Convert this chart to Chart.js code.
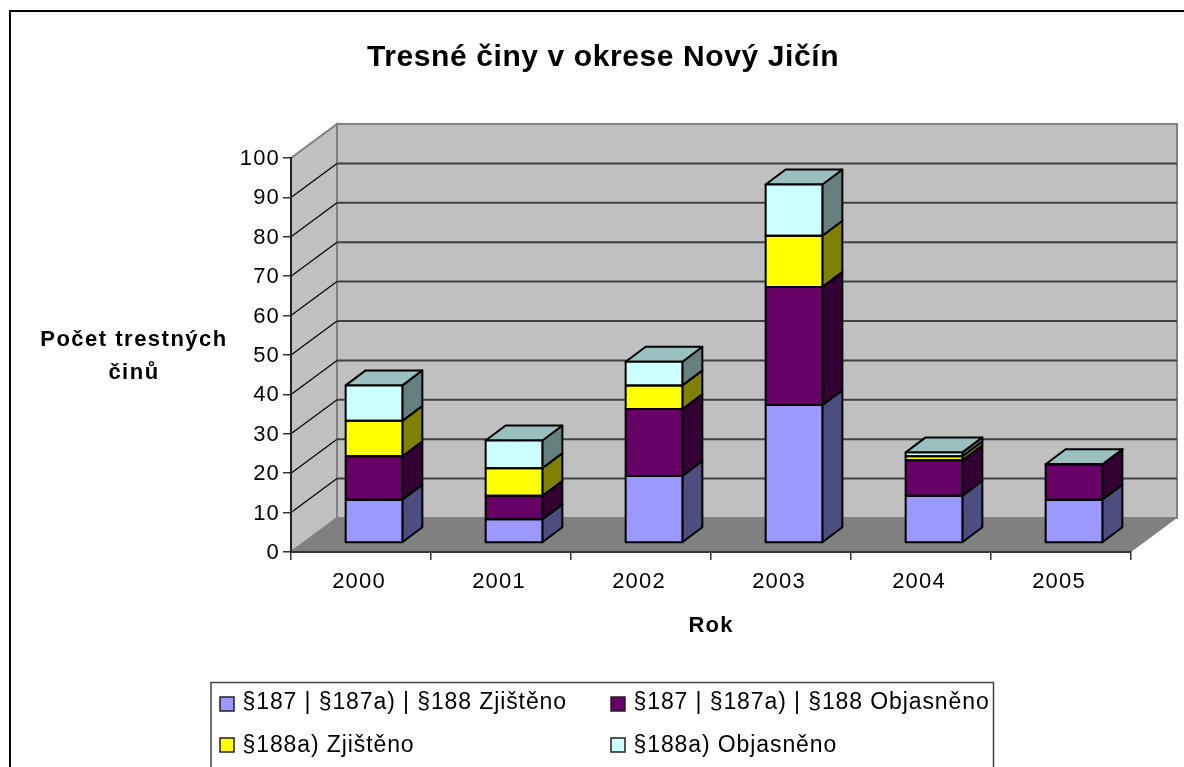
<!DOCTYPE html>
<html>
<head>
<meta charset="utf-8">
<title>Tresné činy v okrese Nový Jičín</title>
<script src="https://cdn.jsdelivr.net/npm/chart.js@4/dist/chart.umd.min.js"></script>
<style>
    html, body { margin: 0; padding: 0; background: #fff; overflow: hidden; }
    canvas { display: block; }
</style>
</head>
<body>
<canvas id="chart" width="1184" height="767"></canvas>
<script>
// Chart data
const years = ['2000', '2001', '2002', '2003', '2004', '2005'];
const zjisteno187 = [11, 6, 17, 35, 12, 11];
const objasneno187 = [11, 6, 17, 30, 9, 9];
const zjisteno188a = [9, 7, 6, 13, 1, 0];
const objasneno188a = [9, 7, 6, 13, 1, 0];
const yTicks = [0, 10, 20, 30, 40, 50, 60, 70, 80, 90, 100];

const seriesNames = ['§187 | §187a) | §188 Zjištěno', '§187 | §187a) | §188 Objasněno', '§188a) Zjištěno', '§188a) Objasněno'];
const seriesValues = [zjisteno187, objasneno187, zjisteno188a, objasneno188a];

const titleText = 'Tresné činy v okrese Nový Jičín';
const yTitleLines = ['Počet trestných', 'činů'];
const xTitleText = 'Rok';

// Colours: front face and darker side face of each series
const frontColors = ['#9999FF', '#660066', '#FFFF00', '#CCFFFF'];
const sideColors = ['#4D4D80', '#330033', '#808000', '#668080'];
const topColor = '#99BFBF';

// 3D offsets
const wallDepth = { x: 46, y: -34 };
const barShift = { x: 13, y: -9 };
const barDepth = { x: 20, y: -15 };

const FONT = '"Liberation Sans", Arial, sans-serif';

function quad(ctx, pts, fill, stroke, lineWidth) {
    ctx.beginPath();
    pts.forEach((p, i) => i ? ctx.lineTo(p[0], p[1]) : ctx.moveTo(p[0], p[1]));
    ctx.closePath();
    if (fill) {
        ctx.fillStyle = fill;
        ctx.fill();
    }
    if (stroke) {
        ctx.strokeStyle = stroke;
        ctx.lineWidth = lineWidth;
        ctx.stroke();
    }
}

// Page frame, walls, floor and gridlines
const wallsPlugin = {
    id: 'walls',
    beforeDraw(chart) {
        const { ctx, chartArea: a, scales } = chart;
        const dx = wallDepth.x, dy = wallDepth.y;

        // the axis labels pick this up from the context
        ctx.letterSpacing = '1.2px';

        ctx.fillStyle = '#fff';
        ctx.fillRect(0, 0, chart.width, chart.height);
        ctx.strokeStyle = '#000';
        ctx.lineWidth = 2;
        ctx.beginPath();
        ctx.moveTo(10, chart.height);
        ctx.lineTo(10, 11);
        ctx.lineTo(chart.width, 11);
        ctx.stroke();

        // side wall, back wall, floor
        quad(ctx, [[a.left, a.top], [a.left + dx, a.top + dy], [a.left + dx, a.bottom + dy], [a.left, a.bottom]], '#C0C0C0', '#808080', 2);
        quad(ctx, [[a.left + dx, a.top + dy], [a.right + dx, a.top + dy], [a.right + dx, a.bottom + dy], [a.left + dx, a.bottom + dy]], '#C0C0C0', '#808080', 2);
        quad(ctx, [[a.left, a.bottom], [a.left + dx, a.bottom + dy], [a.right + dx, a.bottom + dy], [a.right, a.bottom]], '#808080');

        yTicks.slice(1, -1).forEach(v => {
            const y = scales.y.getPixelForValue(v);
            ctx.beginPath();
            ctx.moveTo(a.left, y);
            ctx.lineTo(a.left + dx, y + dy);
            ctx.strokeStyle = '#000';
            ctx.lineWidth = 1.2;
            ctx.stroke();
            ctx.beginPath();
            ctx.moveTo(a.left + dx, y + dy);
            ctx.lineTo(a.right + dx, y + dy);
            ctx.strokeStyle = '#404040';
            ctx.lineWidth = 2;
            ctx.stroke();
        });
    }
};

// Side and top faces of the columns, the fronts are the library's own bars
const columnsPlugin = {
    id: 'columns',
    beforeDatasetsDraw(chart) {
        const { ctx } = chart;
        const dx = barDepth.x, dy = barDepth.y;
        ctx.save();
        ctx.translate(barShift.x, barShift.y);
        ctx.lineJoin = 'round';

        chart.data.datasets.forEach((ds, d) => {
            chart.getDatasetMeta(d).data.forEach(bar => {
                const r = bar.x + bar.width / 2;
                quad(ctx, [[r, bar.y], [r + dx, bar.y + dy], [r + dx, bar.base + dy], [r, bar.base]], sideColors[d], '#000', 2);
            });
        });

        const last = chart.data.datasets.length - 1;
        chart.getDatasetMeta(last).data.forEach(bar => {
            const l = bar.x - bar.width / 2;
            const r = bar.x + bar.width / 2;
            quad(ctx, [[l, bar.y], [l + dx, bar.y + dy], [r + dx, bar.y + dy], [r, bar.y]], topColor, '#000', 2);
        });
    },
    afterDatasetsDraw(chart) {
        const { ctx } = chart;
        // outlines centred on the segment edges
        chart.data.datasets.forEach((ds, d) => {
            chart.getDatasetMeta(d).data.forEach(bar => {
                const l = bar.x - bar.width / 2;
                const r = bar.x + bar.width / 2;
                quad(ctx, [[l, bar.y], [r, bar.y], [r, bar.base], [l, bar.base]], null, '#000', 2);
            });
        });
        ctx.restore();
    }
};

// Title, horizontal y axis title and the two column legend
const labelsPlugin = {
    id: 'labels',
    afterDraw(chart) {
        const { ctx } = chart;
        ctx.save();
        ctx.fillStyle = '#000';
        ctx.textBaseline = 'middle';
        ctx.textAlign = 'center';

        ctx.letterSpacing = '0.6px';
        ctx.font = 'bold 30px ' + FONT;
        ctx.fillText(titleText, 603, 58);

        ctx.letterSpacing = '1.5px';
        ctx.font = 'bold 22px ' + FONT;
        yTitleLines.forEach((line, i) => ctx.fillText(line, 134, 340 + i * 33));

        ctx.strokeStyle = '#404040';
        ctx.lineWidth = 1.5;
        ctx.beginPath();
        ctx.moveTo(211, chart.height);
        ctx.lineTo(211, 682.5);
        ctx.lineTo(993.5, 682.5);
        ctx.lineTo(993.5, chart.height);
        ctx.stroke();

        ctx.textAlign = 'left';
        ctx.letterSpacing = '0.9px';
        ctx.font = '23px ' + FONT;
        chart.data.datasets.forEach((ds, d) => {
            const col = d % 2, row = Math.floor(d / 2);
            const x = col ? 611 : 220;
            const y = 704 + row * 41;
            quad(ctx, [[x, y - 7], [x + 14, y - 7], [x + 14, y + 7], [x, y + 7]], frontColors[d], '#202020', 1.5);
            ctx.fillStyle = '#000';
            ctx.fillText(ds.label, x + 22.5, 703 + row * 43);
        });
        ctx.restore();
    }
};

new Chart(document.getElementById('chart'), {
    type: 'bar',
    data: {
        labels: years,
        datasets: seriesValues.map((values, i) => ({
            label: seriesNames[i],
            data: values,
            backgroundColor: frontColors[i],
            borderWidth: 0,
            barPercentage: 0.405,
            categoryPercentage: 1,
            clip: false
        }))
    },
    plugins: [wallsPlugin, columnsPlugin, labelsPlugin],
    options: {
        responsive: false,
        animation: false,
        layout: { padding: { left: 75, right: 53, top: 158, bottom: 125 } },
        plugins: {
            legend: { display: false },
            tooltip: { enabled: false }
        },
        scales: {
            x: {
                stacked: true,
                afterFit(scale) { scale.height = 90; },
                border: { color: '#333', width: 2 },
                grid: { drawOnChartArea: false, tickLength: 8, tickColor: '#333', lineWidth: 1.5, offset: true },
                ticks: { color: '#000', font: { family: FONT, size: 22 }, maxRotation: 0, labelOffset: -2, padding: 9 },
                title: {
                    display: true,
                    text: xTitleText,
                    color: '#000',
                    font: { family: FONT, size: 22, weight: 'bold' },
                    padding: { top: 0, bottom: 3 }
                }
            },
            y: {
                stacked: true,
                min: 0,
                max: 100,
                afterFit(scale) { scale.width = 216; },
                afterBuildTicks(scale) { scale.ticks = yTicks.map(v => ({ value: v })); },
                border: { color: '#222', width: 2 },
                grid: { drawOnChartArea: false, tickLength: 8, tickColor: '#333', lineWidth: 1.5 },
                ticks: { color: '#000', font: { family: FONT, size: 22 }, padding: 3, labelOffset: 1 }
            }
        }
    }
});
</script>
</body>
</html>
